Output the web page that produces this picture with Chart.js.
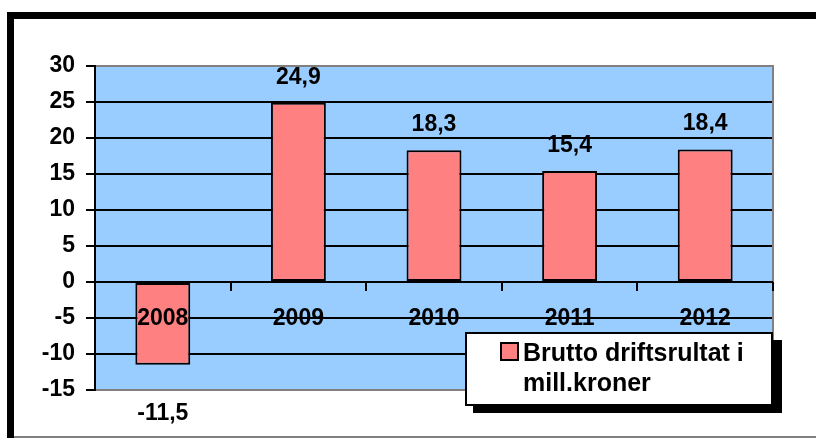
<!DOCTYPE html>
<html>
<head>
<meta charset="utf-8">
<script src="https://cdn.jsdelivr.net/npm/chart.js@4/dist/chart.umd.min.js"></script>
<style>
  html, body { margin: 0; padding: 0; background: #fff; }
  #wrap { width: 816px; height: 439px; position: relative; }
</style>
</head>
<body>
<div id="wrap"><canvas id="c" width="816" height="439"></canvas></div>
<script>
const categories = ['2008', '2009', '2010', '2011', '2012'];
const values = [-11.5, 24.9, 18.3, 15.4, 18.4];
const yMin = -15;
const yMax = 30;
const yStep = 5;
const legendLines = ['Brutto driftsrultat i', 'mill.kroner'];
const seriesName = legendLines.join(' ');

const FONT = '"Liberation Sans", Arial, sans-serif';
const fmt = v => String(v).replace('.', ',');

const decor = {
  id: 'decor',
  beforeDraw(chart) {
    const ctx = chart.ctx, a = chart.chartArea;
    ctx.save();
    ctx.fillStyle = '#fff';
    ctx.fillRect(0, 0, chart.width, chart.height);
    // outer frame
    ctx.fillStyle = '#000';
    ctx.fillRect(7, 12, 7, 426);
    ctx.fillRect(7, 12, 809, 7);
    ctx.fillStyle = '#808080';
    ctx.fillRect(14, 436, 802, 2);
    // plot background
    ctx.fillStyle = '#99CCFF';
    ctx.fillRect(a.left, a.top, a.right - a.left, a.bottom - a.top);
    ctx.restore();
  },
  afterDatasetsDraw(chart) {
    const ctx = chart.ctx, a = chart.chartArea;
    const xs = chart.scales.x, ys = chart.scales.y;
    const y0 = ys.getPixelForValue(0);
    ctx.save();
    // right plot border
    ctx.strokeStyle = '#808080';
    ctx.lineWidth = 2;
    ctx.beginPath();
    ctx.moveTo(a.right, a.top - 1);
    ctx.lineTo(a.right, a.bottom + 1);
    ctx.stroke();
    // zero line and category boundary ticks
    ctx.strokeStyle = '#000';
    ctx.beginPath();
    ctx.moveTo(a.left, y0);
    ctx.lineTo(a.right, y0);
    ctx.stroke();
    const step = (a.right - a.left) / categories.length;
    for (let i = 1; i <= categories.length; i++) {
      const x = Math.round(xs.getPixelForValue(i - 1) + step / 2);
      ctx.beginPath();
      ctx.moveTo(x, y0);
      ctx.lineTo(x, y0 + 9);
      ctx.stroke();
    }
    // category labels
    ctx.fillStyle = '#000';
    ctx.font = 'bold 23px ' + FONT;
    ctx.textAlign = 'center';
    ctx.textBaseline = 'middle';
    const yLab = ys.getPixelForValue(-5) + 1;
    categories.forEach((c, i) => {
      ctx.fillText(c, xs.getPixelForValue(i), yLab);
    });
    // data labels
    const meta = chart.getDatasetMeta(0);
    meta.data.forEach((bar, i) => {
      const v = values[i];
      if (v >= 0) {
        ctx.textBaseline = 'bottom';
        ctx.fillText(fmt(v), bar.x, bar.y - 14);
      } else {
        ctx.textBaseline = 'top';
        ctx.fillText(fmt(v), bar.x, bar.y + 37);
      }
    });
    ctx.restore();
  },
  afterDraw(chart) {
    const ctx = chart.ctx;
    ctx.save();
    // legend box with shadow
    ctx.fillStyle = '#000';
    ctx.fillRect(473, 340, 309, 73);
    ctx.fillStyle = '#fff';
    ctx.fillRect(465, 332, 308, 74);
    ctx.strokeStyle = '#000';
    ctx.lineWidth = 2;
    ctx.strokeRect(466, 333, 306, 72);
    // marker
    ctx.fillStyle = '#FF8080';
    ctx.fillRect(501, 343, 17, 17);
    ctx.lineWidth = 2;
    ctx.strokeRect(501, 343, 17, 17);
    // text
    ctx.fillStyle = '#000';
    ctx.font = 'bold 25px ' + FONT;
    ctx.textAlign = 'left';
    ctx.textBaseline = 'alphabetic';
    ctx.fillText(legendLines[0], 523, 361);
    ctx.fillText(legendLines[1], 523, 391);
    ctx.restore();
  }
};

new Chart(document.getElementById('c'), {
  type: 'bar',
  data: {
    labels: categories,
    datasets: [{
      label: seriesName,
      data: values,
      backgroundColor: '#FF8080',
      borderColor: '#000',
      borderWidth: 2,
      borderSkipped: false,
      categoryPercentage: 1,
      barPercentage: 0.405
    }]
  },
  options: {
    responsive: false,
    animation: false,
    devicePixelRatio: 1,
    layout: { padding: { left: 0, right: 43, top: 66, bottom: 49 } },
    plugins: { legend: { display: false }, tooltip: { enabled: false } },
    scales: {
      x: { display: false },
      y: {
        min: yMin,
        max: yMax,
        afterFit(scale) { scale.width = 95; },
        ticks: {
          stepSize: yStep,
          color: '#000',
          padding: 11,
          font: { family: FONT, size: 23, weight: 'bold' },
          callback: v => String(v)
        },
        grid: {
          color: ctx => (ctx.tick && (ctx.tick.value === yMax || ctx.tick.value === yMin)) ? '#808080' : '#000',
          tickColor: '#000',
          lineWidth: 2,
          tickLength: 9
        },
        border: { color: '#000', width: 2 }
      }
    }
  },
  plugins: [decor]
});
</script>
</body>
</html>
